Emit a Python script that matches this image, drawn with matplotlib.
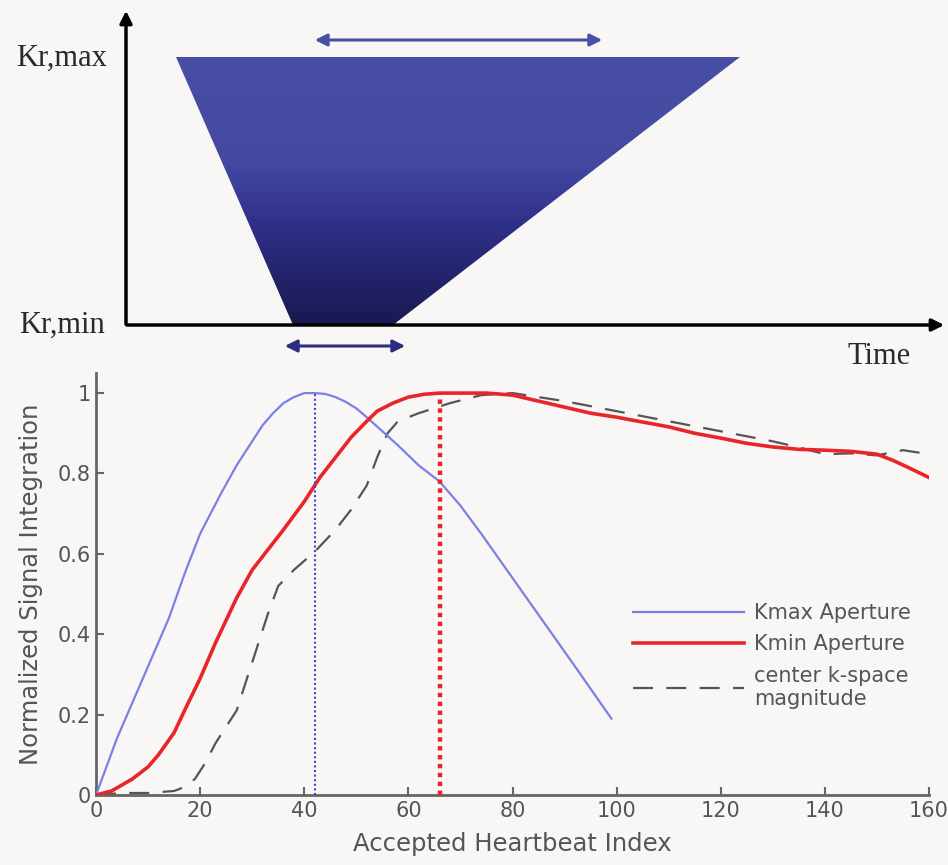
import numpy as np
import matplotlib
matplotlib.use('Agg')
import matplotlib.pyplot as plt
from matplotlib.colors import LinearSegmentedColormap
from matplotlib.patches import Polygon

# ---- bottom chart data ----
kmax_x = [0, 2, 4, 7, 10, 12, 14, 17, 20, 22, 24, 27, 30, 32, 34, 36, 38, 40, 42, 44, 46, 48, 50, 52, 55, 58, 62, 66, 70, 74, 80, 86, 92, 99]
kmax_y = [0, 0.07, 0.14, 0.23, 0.32, 0.38, 0.44, 0.55, 0.65, 0.7, 0.75, 0.82, 0.88, 0.92, 0.95, 0.975, 0.99, 1.0, 1.0, 0.998, 0.99, 0.978, 0.962, 0.94, 0.905, 0.87, 0.82, 0.78, 0.72, 0.65, 0.54, 0.43, 0.32, 0.19]

kmin_x = [0, 3, 5, 7, 10, 12, 15, 17, 20, 23, 27, 30, 33, 36, 40, 43, 46, 49, 52, 54, 57, 60, 63, 66, 70, 75, 80, 85, 90, 95, 100, 105, 110, 115, 120, 125, 130, 135, 140, 145, 150, 153, 156, 160]
kmin_y = [0, 0.01, 0.025, 0.04, 0.07, 0.1, 0.155, 0.21, 0.29, 0.38, 0.49, 0.56, 0.61, 0.66, 0.73, 0.79, 0.84, 0.89, 0.93, 0.955, 0.975, 0.99, 0.997, 1.0, 1.0, 1.0, 0.995, 0.98, 0.965, 0.95, 0.94, 0.928, 0.916, 0.9, 0.888, 0.875, 0.866, 0.86, 0.858, 0.855, 0.848, 0.833, 0.815, 0.79]

center_x = [0, 5, 10, 15, 17, 19, 21, 23, 25, 27, 30, 33, 35, 38, 42, 46, 49, 52, 54, 56, 58, 62, 68, 74, 80, 90, 100, 110, 120, 130, 135, 140, 145, 150, 155, 160]
center_y = [0, 0.005, 0.005, 0.01, 0.02, 0.04, 0.08, 0.13, 0.17, 0.21, 0.33, 0.45, 0.52, 0.56, 0.605, 0.66, 0.71, 0.77, 0.84, 0.9, 0.93, 0.95, 0.975, 0.995, 1.0, 0.98, 0.955, 0.93, 0.905, 0.88, 0.865, 0.848, 0.85, 0.845, 0.858, 0.848]

kmax_peak = 42
kmin_peak = 66

x_ticks = [0, 20, 40, 60, 80, 100, 120, 140, 160]
y_ticks = [0, 0.2, 0.4, 0.6, 0.8, 1]
y_ticklabels = ['0', '0.2', '0.4', '0.6', '0.8', '1']

# ---- top diagram geometry (pixel space of the upper panel) ----
trap_x = [176, 740, 393, 293]
trap_y = [57, 57, 325, 325]
wide_arrow = [312, 605, 40]
narrow_arrow = [282, 408, 346]

bg = '#f8f7f5'
W, H = 948, 865
fig = plt.figure(figsize=(W / 100, H / 100), dpi=100, facecolor=bg)

# ---------------- top schematic ----------------
top_h = 380
ax0 = fig.add_axes([0, (H - top_h) / H, 1, top_h / H])
ax0.set_xlim(0, W)
ax0.set_ylim(top_h, 0)
ax0.axis('off')
ax0.patch.set_alpha(0)

cmap = LinearSegmentedColormap.from_list('trap', [(0, '#4a4fa6'), (0.4, '#4448a0'),
                                                   (0.62, '#2f308a'), (1, '#1a1850')])
grad = np.linspace(0, 1, 256).reshape(-1, 1)
im = ax0.imshow(grad, cmap=cmap, extent=[min(trap_x), max(trap_x), max(trap_y), min(trap_y)],
                aspect='auto', zorder=1)
poly = Polygon(list(zip(trap_x, trap_y)), closed=True, facecolor='none', edgecolor='none')
ax0.add_patch(poly)
im.set_clip_path(poly)

# axes of the schematic
ax0.annotate('', xy=(126, 8), xytext=(126, 327),
             arrowprops=dict(arrowstyle='-|>', color='black', lw=2.5, mutation_scale=18))
ax0.annotate('', xy=(947, 325), xytext=(124, 325),
             arrowprops=dict(arrowstyle='-|>', color='black', lw=2.5, mutation_scale=18))

ax0.annotate('', xy=(wide_arrow[0], wide_arrow[2]), xytext=(wide_arrow[1], wide_arrow[2]),
             arrowprops=dict(arrowstyle='<|-|>', color='#4b4fa8', lw=2.2, mutation_scale=18))
ax0.annotate('', xy=(narrow_arrow[0], narrow_arrow[2]), xytext=(narrow_arrow[1], narrow_arrow[2]),
             arrowprops=dict(arrowstyle='<|-|>', color='#2c2c80', lw=2.2, mutation_scale=18))

serif = dict(family='Liberation Serif', fontsize=22, color='#2a2a2a')
ax0.text(62, 58, 'Kr,max', ha='center', va='center', **serif)
ax0.text(62, 325, 'Kr,min', ha='center', va='center', **serif)
ax0.text(879, 356, 'Time', ha='center', va='center', **serif)

# ---------------- bottom chart ----------------
x0, x1 = 96, 929
y0, y1 = 795, 373
ax = fig.add_axes([x0 / W, (H - y0) / H, (x1 - x0) / W, (y0 - y1) / H])
ax.set_facecolor(bg)

ax.plot(kmax_x, kmax_y, color='#7b80e6', lw=1.6, label='Kmax Aperture', zorder=3)
ax.plot(kmin_x, kmin_y, color='#e8262a', lw=2.6, label='Kmin Aperture', zorder=4)
ax.plot(center_x, center_y, color='#555555', lw=1.6, dashes=(9, 6),
        label='center k-space\nmagnitude', zorder=2)
ax.vlines(kmax_peak, 0, 1, color='#4545cc', lw=1.5, linestyles=(0, (1, 1.2)), zorder=5)
ax.vlines(kmin_peak, 0, 1, color='#e8262a', lw=3.2, linestyles=(0, (1, 1)), zorder=5)

ax.set_xlim(0, 160)
ax.set_ylim(0, 1.05)
ax.set_xticks(x_ticks)
ax.set_yticks(y_ticks)
ax.set_yticklabels(y_ticklabels)

for s in ['top', 'right']:
    ax.spines[s].set_visible(False)
for s in ['left', 'bottom']:
    ax.spines[s].set_color('#666666')
    ax.spines[s].set_linewidth(2)
ax.tick_params(direction='in', length=6, width=1.5, color='#666666',
               labelsize=15, labelcolor='#555555', pad=4)

ax.set_xlabel('Accepted Heartbeat Index', fontsize=17.5, color='#555555', labelpad=8)
ax.set_ylabel('Normalized Signal Integration', fontsize=17.5, color='#555555', labelpad=10)

leg = ax.legend(loc='upper left', bbox_to_anchor=(0.635, 0.475), frameon=False,
                fontsize=15, handlelength=5.3, handletextpad=0.5, labelspacing=0.55,
                labelcolor='#555555', borderaxespad=0)

fig.savefig('out.png', dpi=100, facecolor=bg)
